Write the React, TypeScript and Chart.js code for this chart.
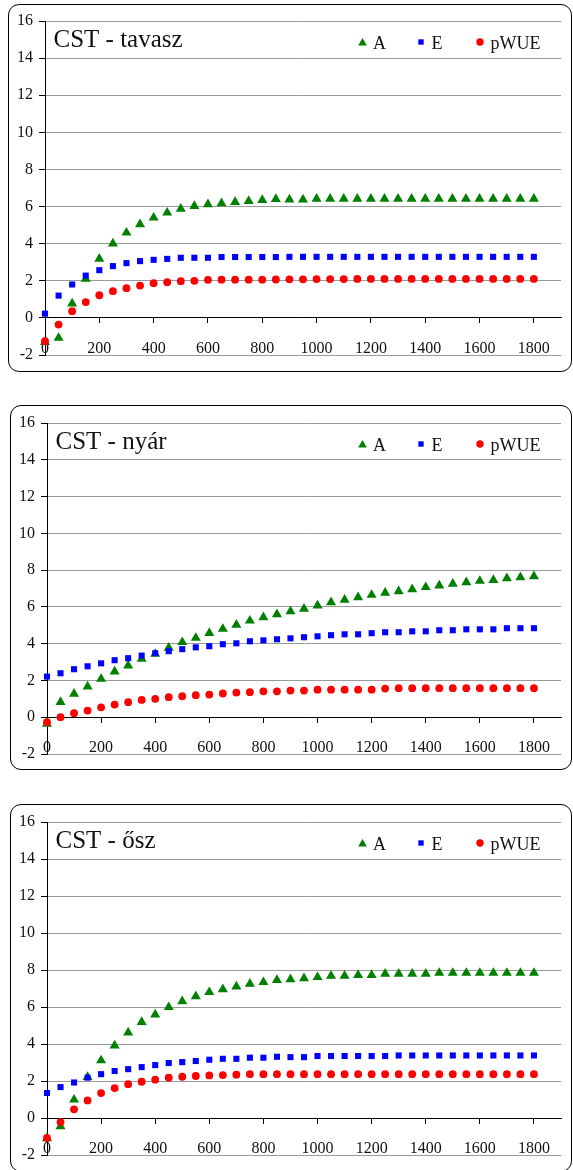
import React, { useEffect, useRef } from "react";
import { Chart, registerables } from "chart.js";

Chart.register(...registerables);

// ---- data ----
const PAR = [0, 50, 100, 150, 200, 250, 300, 350, 400, 450, 500, 550, 600, 650, 700, 750, 800, 850, 900, 950, 1000, 1050, 1100, 1150, 1200, 1250, 1300, 1350, 1400, 1450, 1500, 1550, 1600, 1650, 1700, 1750, 1800];
const X_TICKS = [0, 200, 400, 600, 800, 1000, 1200, 1400, 1600, 1800];
const X_MIN = 0;
const X_MAX = 1900;
const Y_MIN = -2;
const Y_MAX = 16;
const Y_STEP = 2;

const SERIES_NAMES = ["A", "E", "pWUE"];
const PANEL_TITLES = ["CST - tavasz", "CST - nyár", "CST - ősz"];

const SPRING_A = [-1.3, -1.08, 0.77, 2.1, 3.18, 4.0, 4.59, 5.04, 5.4, 5.67, 5.88, 6.03, 6.12, 6.17, 6.24, 6.3, 6.35, 6.4, 6.38, 6.38, 6.42, 6.42, 6.42, 6.42, 6.42, 6.42, 6.42, 6.42, 6.42, 6.42, 6.42, 6.42, 6.42, 6.42, 6.42, 6.42, 6.42];
const SPRING_E = [0.23, 1.2, 1.8, 2.28, 2.57, 2.79, 2.95, 3.06, 3.13, 3.18, 3.24, 3.24, 3.24, 3.28, 3.28, 3.28, 3.28, 3.28, 3.29, 3.29, 3.29, 3.29, 3.29, 3.29, 3.29, 3.29, 3.29, 3.29, 3.29, 3.29, 3.29, 3.29, 3.29, 3.29, 3.29, 3.29, 3.29];
const SPRING_PWUE = [-1.26, -0.36, 0.36, 0.85, 1.22, 1.44, 1.6, 1.74, 1.87, 1.92, 1.98, 2.0, 2.05, 2.06, 2.06, 2.06, 2.06, 2.07, 2.08, 2.08, 2.09, 2.09, 2.09, 2.1, 2.1, 2.1, 2.1, 2.1, 2.1, 2.1, 2.1, 2.1, 2.1, 2.1, 2.1, 2.1, 2.1];

const SUMMER_A = [-0.36, 0.82, 1.27, 1.67, 2.08, 2.48, 2.81, 3.17, 3.44, 3.77, 4.08, 4.31, 4.58, 4.8, 5.02, 5.25, 5.43, 5.6, 5.76, 5.89, 6.07, 6.25, 6.38, 6.52, 6.65, 6.76, 6.85, 6.96, 7.07, 7.16, 7.25, 7.34, 7.41, 7.46, 7.55, 7.61, 7.66];
const SUMMER_E = [2.21, 2.39, 2.61, 2.77, 2.93, 3.1, 3.21, 3.35, 3.48, 3.59, 3.7, 3.8, 3.86, 3.97, 4.02, 4.13, 4.18, 4.24, 4.29, 4.35, 4.4, 4.46, 4.51, 4.51, 4.57, 4.62, 4.62, 4.67, 4.67, 4.73, 4.73, 4.78, 4.78, 4.78, 4.84, 4.84, 4.84];
const SUMMER_PWUE = [-0.27, 0.0, 0.22, 0.36, 0.54, 0.69, 0.82, 0.94, 1.0, 1.09, 1.14, 1.2, 1.23, 1.29, 1.34, 1.36, 1.41, 1.41, 1.45, 1.45, 1.5, 1.5, 1.5, 1.5, 1.5, 1.56, 1.58, 1.58, 1.58, 1.58, 1.58, 1.58, 1.58, 1.58, 1.58, 1.58, 1.58];

const AUTUMN_A = [-1.1, -0.45, 0.99, 2.21, 3.11, 3.92, 4.62, 5.18, 5.59, 5.99, 6.31, 6.58, 6.8, 6.96, 7.1, 7.25, 7.34, 7.46, 7.5, 7.55, 7.61, 7.68, 7.68, 7.73, 7.73, 7.79, 7.79, 7.79, 7.79, 7.84, 7.84, 7.84, 7.84, 7.84, 7.84, 7.84, 7.84];
const AUTUMN_E = [1.35, 1.67, 1.92, 2.18, 2.37, 2.54, 2.64, 2.75, 2.86, 2.97, 3.02, 3.08, 3.15, 3.2, 3.2, 3.26, 3.26, 3.31, 3.29, 3.29, 3.35, 3.35, 3.35, 3.35, 3.35, 3.35, 3.38, 3.38, 3.38, 3.38, 3.38, 3.38, 3.38, 3.38, 3.38, 3.38, 3.38];
const AUTUMN_PWUE = [-1.08, -0.22, 0.47, 0.95, 1.35, 1.62, 1.83, 1.96, 2.07, 2.18, 2.23, 2.27, 2.3, 2.32, 2.34, 2.37, 2.37, 2.37, 2.37, 2.37, 2.37, 2.37, 2.37, 2.37, 2.37, 2.37, 2.37, 2.37, 2.37, 2.37, 2.37, 2.37, 2.37, 2.37, 2.37, 2.37, 2.37];

const PANEL_SERIES = [
  [SPRING_A, SPRING_E, SPRING_PWUE],
  [SUMMER_A, SUMMER_E, SUMMER_PWUE],
  [AUTUMN_A, AUTUMN_E, AUTUMN_PWUE],
];

// ---- styles ----
const FONT = '"Liberation Serif", "Times New Roman", serif';
const COLORS = ["#008000", "#0000ff", "#ff0000"];
const POINT_STYLES = ["triangle", "rect", "circle"];
const POINT_RADII = [5.8, 4.3, 3.9];

const PANELS = [
  { left: 8, top: 4, width: 564, height: 368, padTop: 17, padRight: 11, padBottom: 17 },
  { left: 10, top: 405, width: 562, height: 365, padTop: 18, padRight: 11, padBottom: 16 },
  { left: 10, top: 804, width: 562, height: 368, padTop: 18, padRight: 11, padBottom: 17 },
];

function drawMarker(ctx: CanvasRenderingContext2D, style: string, x: number, y: number, r: number, color: string) {
  ctx.fillStyle = color;
  ctx.beginPath();
  if (style === "triangle") {
    ctx.moveTo(x, y - r);
    ctx.lineTo(x + r * Math.sin(Math.PI / 3), y + r / 2);
    ctx.lineTo(x - r * Math.sin(Math.PI / 3), y + r / 2);
    ctx.closePath();
  } else if (style === "rect") {
    const s = Math.SQRT1_2 * r;
    ctx.rect(x - s, y - s, 2 * s, 2 * s);
  } else {
    ctx.arc(x, y, r, 0, Math.PI * 2);
  }
  ctx.fill();
}

const overlayPlugin = {
  id: "overlayTitleLegend",
  afterDraw(chart: any, _args: any, opts: any) {
    const { ctx, chartArea } = chart;
    ctx.save();
    ctx.fillStyle = "#111";
    ctx.textAlign = "left";
    ctx.textBaseline = "alphabetic";
    ctx.font = `25px ${FONT}`;
    ctx.fillText(opts.title, chartArea.left + 8.5, chartArea.top + 26);

    const cy = chartArea.top + 21;
    const markerX = [chartArea.right - 198.5, chartArea.right - 140, chartArea.right - 81];
    const legendRadii = [5, 3.8, 3.7];
    ctx.font = `18px ${FONT}`;
    SERIES_NAMES.forEach((name, i) => {
      drawMarker(ctx, POINT_STYLES[i], markerX[i], cy + (i === 0 ? 1 : 0), legendRadii[i], COLORS[i]);
      ctx.fillStyle = "#111";
      ctx.fillText(name, markerX[i] + 10.5, cy + 6.5);
    });
    ctx.restore();
  },
};

function Panel({ index }: { index: number }) {
  const ref = useRef<HTMLCanvasElement | null>(null);
  const g = PANELS[index];
  useEffect(() => {
    if (!ref.current) return;
    const series = PANEL_SERIES[index];
    const chart = new Chart(ref.current, {
      type: "scatter",
      data: {
        datasets: SERIES_NAMES.map((name, i) => ({
          label: name,
          data: PAR.map((x, k) => ({ x, y: series[i][k] })),
          backgroundColor: COLORS[i],
          borderColor: COLORS[i],
          borderWidth: 0,
          pointStyle: POINT_STYLES[i] as any,
          pointRadius: POINT_RADII[i],
          pointHoverRadius: POINT_RADII[i],
          showLine: false,
          order: 3 - i,
          clip: false as any,
        })),
      },
      options: {
        animation: false,
        responsive: false,
        devicePixelRatio: 1,
        layout: { padding: { left: 0, top: g.padTop, right: g.padRight, bottom: g.padBottom } },
        plugins: {
          legend: { display: false },
          tooltip: { enabled: false },
          overlayTitleLegend: { title: PANEL_TITLES[index] },
        } as any,
        scales: {
          x: {
            type: "linear",
            min: X_MIN,
            max: X_MAX,
            position: { y: 0 } as any,
            afterBuildTicks: (scale: any) => {
              scale.ticks = X_TICKS.map((v) => ({ value: v }));
            },
            grid: { display: true, drawOnChartArea: false, drawTicks: true, tickLength: 5, tickColor: "#000", color: "#000" },
            border: { display: true, color: "#000", width: 1 },
            ticks: {
              font: { family: FONT, size: 16 },
              color: "#111",
              padding: 16,
              maxRotation: 0,
              autoSkip: false,
              callback: (v: any) => String(v),
            },
          },
          y: {
            type: "linear",
            min: Y_MIN,
            max: Y_MAX,
            afterFit: (scale: any) => {
              scale.width = 37;
            },
            ticks: { stepSize: Y_STEP, font: { family: FONT, size: 16 }, color: "#111", padding: 6, callback: (v: any) => String(v) },
            grid: { color: "#9a9a9a", lineWidth: 1, tickLength: 6, tickColor: "#000" },
            border: { display: true, color: "#000", width: 1 },
          },
        },
      },
      plugins: [overlayPlugin],
    });
    return () => chart.destroy();
  }, [index]);

  return (
    <>
      <canvas
        ref={ref}
        width={g.width}
        height={g.height}
        style={{ position: "absolute", left: g.left, top: g.top, width: g.width, height: g.height, display: "block" }}
      />
      <div
        style={{
          position: "absolute",
          left: g.left,
          top: g.top,
          width: g.width,
          height: g.height,
          boxSizing: "border-box",
          border: "1.5px solid #000",
          borderRadius: 11,
          pointerEvents: "none",
        }}
      />
    </>
  );
}

export default function App() {
  return (
    <div style={{ position: "absolute", left: 0, top: 0, width: 573, height: 1170, overflow: "hidden", background: "#fff" }}>
      {PANELS.map((_, i) => (
        <Panel key={i} index={i} />
      ))}
    </div>
  );
}
